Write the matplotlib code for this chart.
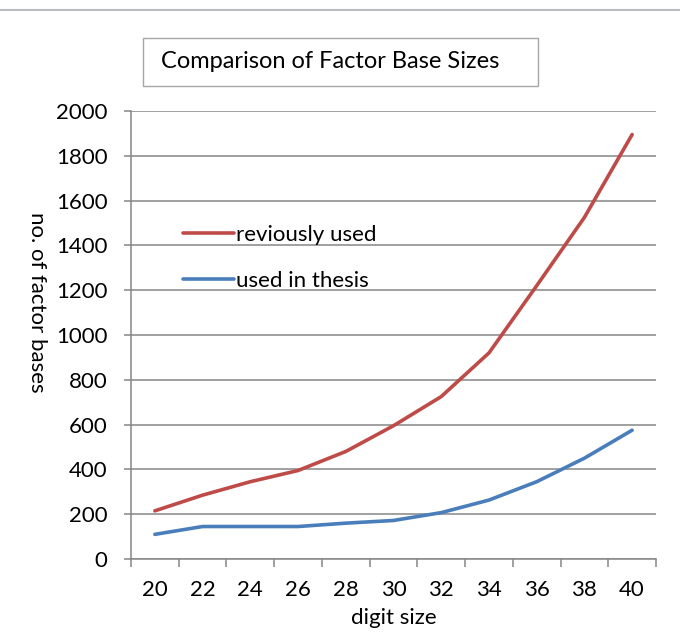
import matplotlib.pyplot as plt
from matplotlib.patches import Rectangle
from matplotlib.lines import Line2D
import numpy as np

plt.rcParams['font.family'] = ['Lato', 'DejaVu Sans']

digit_sizes = [20, 22, 24, 26, 28, 30, 32, 34, 36, 38, 40]
previously_used = [215, 285, 345, 395, 480, 595, 725, 920, 1220, 1525, 1895]
used_in_thesis = [110, 145, 145, 145, 160, 172, 207, 263, 345, 450, 575]
series_labels = ["reviously used", "used in thesis"]

red = "#BE4B48"
blue = "#4A7EBB"
grid_col = "#868686"
fs = 16

fig = plt.figure(figsize=(6.8, 6.32), dpi=100)
ax = fig.add_axes([131 / 680, 1 - 559 / 632, 525 / 680, 448 / 632])

x = np.arange(len(digit_sizes))
l1, = ax.plot(x, previously_used, color=red, lw=2.6, solid_capstyle="round", zorder=3)
l2, = ax.plot(x, used_in_thesis, color=blue, lw=2.6, solid_capstyle="round", zorder=3)

ax.set_xlim(-0.5, len(digit_sizes) - 0.5)
ax.set_ylim(0, 2000)
ax.set_yticks(range(0, 2001, 200))
ax.yaxis.grid(True, color=grid_col, lw=1.1)
ax.set_axisbelow(True)

# category labels in the middle, tick marks on the boundaries
ax.set_xticks(x)
ax.set_xticklabels([str(d) for d in digit_sizes])
ax.set_xticks(np.arange(-0.5, len(digit_sizes)), minor=True)
ax.tick_params(axis="x", which="major", length=0, pad=15, labelsize=fs)
ax.tick_params(axis="x", which="minor", length=6, width=1.1, color=grid_col)
ax.tick_params(axis="y", length=5, width=1.1, color=grid_col, pad=12, labelsize=fs)

for s in ["top", "right"]:
    ax.spines[s].set_visible(False)
for s in ["left", "bottom"]:
    ax.spines[s].set_color(grid_col)
    ax.spines[s].set_linewidth(1.1)

ax.set_xlabel("digit size", fontsize=fs, labelpad=6)
fig.text(37 / 680, 1 - 302 / 632, "no. of factor bases", rotation=-90,
         ha="center", va="center", fontsize=fs)

leg = ax.legend([l1, l2], series_labels, loc="upper left",
                bbox_to_anchor=(0.082, 0.765), frameon=False, fontsize=fs,
                handlelength=2.3, handletextpad=0.1, labelspacing=1.15,
                borderaxespad=0)

# boxed chart title
fig.patches.append(Rectangle((143 / 680, 1 - 86 / 632), 395 / 680, 48 / 632,
                             transform=fig.transFigure, fill=False,
                             edgecolor="#a6a6a6", lw=1.0))
fig.text(161 / 680, 1 - 62 / 632, "Comparison of Factor Base Sizes",
         ha="left", va="center", fontsize=17)

# frame line along the top edge
fig.add_artist(Line2D([0, 1], [1 - 10 / 632] * 2, transform=fig.transFigure,
                      color="#b8bcbf", lw=1.5))

fig.savefig("out.png", dpi=100)
